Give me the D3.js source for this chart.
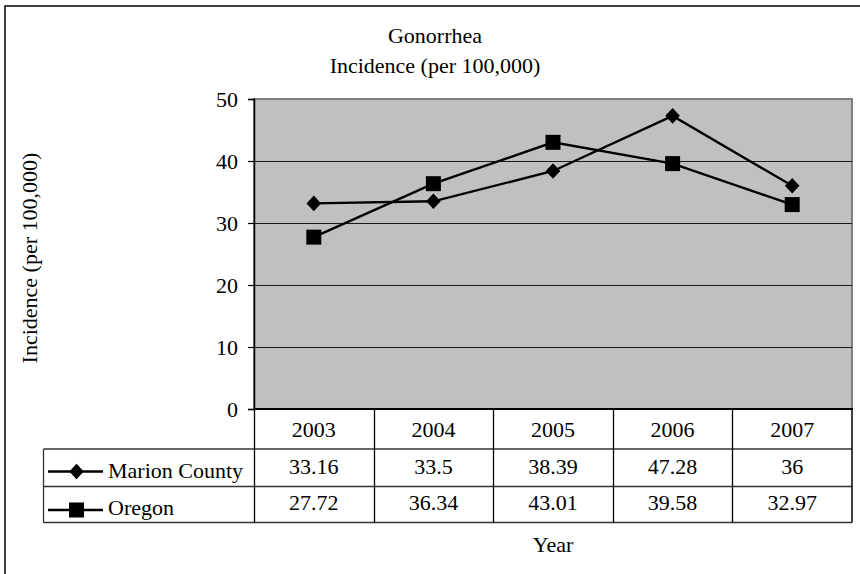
<!DOCTYPE html>
<html><head><meta charset="utf-8">
<script src="https://cdn.jsdelivr.net/npm/d3@7"></script>
<style>body{margin:0;background:#fff}svg{display:block}</style>
</head><body><svg id="c" width="860" height="574"></svg>
<script>
const years = ["2003","2004","2005","2006","2007"];
const marion = [33.16, 33.5, 38.39, 47.28, 36];
const oregon = [27.72, 36.34, 43.01, 39.58, 32.97];
const marionLabels = ["33.16","33.5","38.39","47.28","36"];
const oregonLabels = ["27.72","36.34","43.01","39.58","32.97"];
const yTicks = [0,10,20,30,40,50];
const seriesNames = ["Marion County","Oregon"];

const svg = d3.select("#c");
const font = "'Liberation Serif','Times New Roman',serif";
const FS = 22;
const L = 254, R = 852, T = 99, B = 409;
const x = d3.scaleBand().domain(years).range([L, R]);
const y = d3.scaleLinear().domain([0,50]).range([B, T]);
const cx = yr => x(yr) + x.bandwidth()/2;

// outer frame (chart area extends past the picture on the right and bottom)
svg.append("rect").attr("x",5).attr("y",6).attr("width",860).attr("height",600)
  .attr("fill","none").attr("stroke","#000").attr("stroke-width",1.5);

// plot area
svg.append("rect").attr("x",L).attr("y",T).attr("width",R-L).attr("height",B-T)
  .attr("fill","#c0c0c0").attr("stroke","#808080").attr("stroke-width",2);

// gridlines
svg.append("g").selectAll("line").data(yTicks.filter(d=>d>0&&d<50)).join("line")
  .attr("x1",L).attr("x2",R).attr("y1",d=>Math.round(y(d))+0.5).attr("y2",d=>Math.round(y(d))+0.5)
  .attr("stroke","#1a1a1a").attr("stroke-width",1.2);

// y axis
const yAxis = d3.axisLeft(y).tickValues(yTicks).tickSize(6).tickPadding(10);
const ga = svg.append("g").attr("transform",`translate(${L},0)`).call(yAxis);
ga.select(".domain").attr("stroke","#000").attr("stroke-width",1.5);
ga.selectAll(".tick line").attr("stroke","#000").attr("stroke-width",1.2);
ga.selectAll("text").attr("font-family",font).attr("font-size",FS).attr("fill","#000");

// lines
const line = d3.line().x((d,i)=>cx(years[i])).y(d=>y(d));
[marion, oregon].forEach(s=>{
  svg.append("path").datum(s).attr("d",line).attr("fill","none").attr("stroke","#000").attr("stroke-width",2.4);
});
const diamondPath = "M0,-7.8L7.3,0L0,7.8L-7.3,0Z";
const squarePath = "M-7.5,-7.5H7.5V7.5H-7.5Z";
svg.append("g").selectAll("path").data(marion).join("path")
  .attr("transform",(d,i)=>`translate(${cx(years[i])},${y(d)})`)
  .attr("d",diamondPath).attr("fill","#000");
svg.append("g").selectAll("path").data(oregon).join("path")
  .attr("transform",(d,i)=>`translate(${cx(years[i])},${y(d)})`)
  .attr("d",squarePath).attr("fill","#000");

// data table
const rowY = [409, 449, 486.5, 522.5];
const tblL = 43.5;
const tg = svg.append("g");
[1,2,3].forEach(k=>{
  tg.append("line").attr("x1",tblL).attr("x2",R).attr("y1",rowY[k]).attr("y2",rowY[k]).attr("stroke","#333").attr("stroke-width",1.3);
});
tg.append("line").attr("x1",tblL).attr("x2",tblL).attr("y1",rowY[1]).attr("y2",rowY[3]).attr("stroke","#333").attr("stroke-width",1.3);
years.forEach(yr=>{
  const xx = Math.round(x(yr))+0.5;
  tg.append("line").attr("x1",xx).attr("x2",xx).attr("y1",rowY[0]).attr("y2",rowY[3]).attr("stroke","#000").attr("stroke-width",1.3);
});
tg.append("line").attr("x1",R).attr("x2",R).attr("y1",rowY[0]).attr("y2",rowY[3]).attr("stroke","#000").attr("stroke-width",1.5);
tg.append("line").attr("x1",L).attr("x2",R+1).attr("y1",rowY[0]).attr("y2",rowY[0]).attr("stroke","#000").attr("stroke-width",1.8);

const txt = (xx,yy,s,anchor="middle") => tg.append("text").attr("x",xx).attr("y",yy).attr("text-anchor",anchor)
  .attr("font-family",font).attr("font-size",FS).attr("fill","#000").text(s);
years.forEach((yr,i)=>{
  txt(cx(yr), 437, yr);
  txt(cx(yr), 473.5, marionLabels[i]);
  txt(cx(yr), 510, oregonLabels[i]);
});
// legend keys inside the table
const keyY = [471.5, 510];
seriesNames.forEach((name,k)=>{
  tg.append("line").attr("x1",48).attr("x2",103).attr("y1",keyY[k]).attr("y2",keyY[k]).attr("stroke","#000").attr("stroke-width",2.4);
  tg.append("path").attr("transform",`translate(76.5,${keyY[k]})`).attr("d",k===0?diamondPath:squarePath).attr("fill","#000");
  txt(108, k===0?478:514.5, name, "start");
});

// titles
const tt = (xx,yy,s) => svg.append("text").attr("x",xx).attr("y",yy).attr("text-anchor","middle")
  .attr("font-family",font).attr("font-size",FS).attr("fill","#000").text(s);
tt(435, 43, "Gonorrhea");
tt(435, 73, "Incidence (per 100,000)");
tt((L+R)/2, 552, "Year");
svg.append("text").attr("transform",`translate(37,258) rotate(-90)`).attr("text-anchor","middle")
  .attr("font-family",font).attr("font-size",FS).attr("fill","#000").text("Incidence (per 100,000)");
</script></body></html>
